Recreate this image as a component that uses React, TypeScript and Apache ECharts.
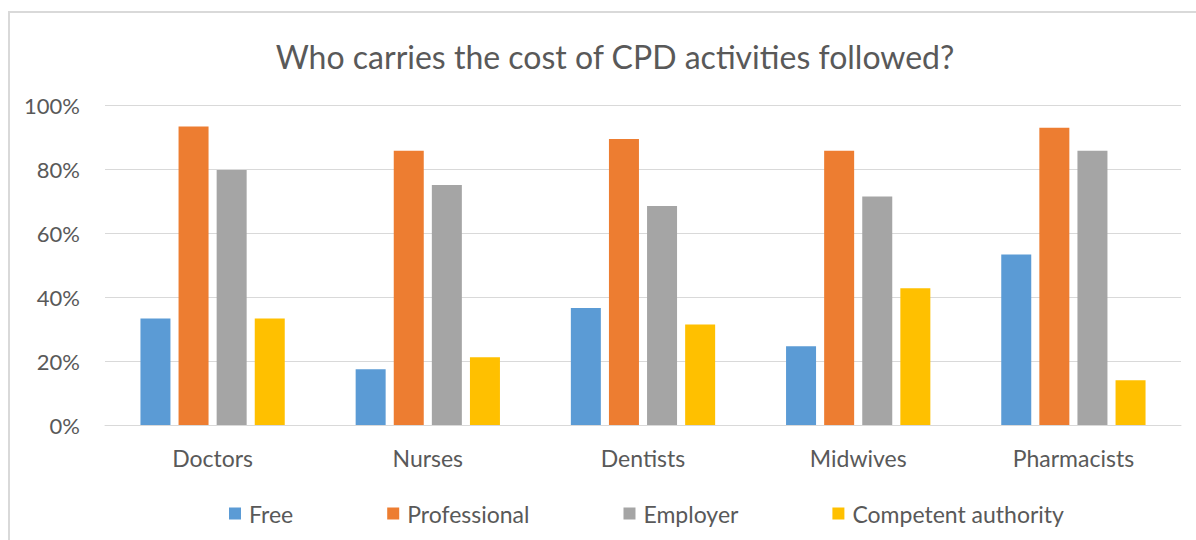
import React, { useEffect, useRef } from "react";
import * as echarts from "echarts";

const categories = ["Doctors", "Nurses", "Dentists", "Midwives", "Pharmacists"];
const seriesNames = ["Free", "Professional", "Employer", "Competent authority"];
const freeValues = [33.3, 17.4, 36.6, 24.6, 53.3];
const professionalValues = [93.3, 85.7, 89.4, 85.7, 92.9];
const employerValues = [79.7, 75.0, 68.4, 71.4, 85.7];
const competentValues = [33.3, 21.2, 31.4, 42.7, 14.0];
const colors = ["#5b9bd5", "#ed7d31", "#a5a5a5", "#ffc000"];
const titleText = "Who carries the cost of CPD activities followed?";

const FONT = "Lato, 'Noto Sans', sans-serif";
const TEXT = "#595959";

export default function App() {
  const ref = useRef<HTMLDivElement>(null);
  useEffect(() => {
    if (!ref.current) return;
    const chart = echarts.init(ref.current, undefined, { renderer: "svg" });
    const data = [freeValues, professionalValues, employerValues, competentValues];
    chart.setOption({
      animation: false,
      backgroundColor: "#ffffff",
      title: {
        text: titleText,
        left: 610,
        top: 35,
        textAlign: "center",
        textStyle: { fontFamily: FONT, fontSize: 32, fontWeight: "normal", color: TEXT },
      },
      graphic: [
        {
          type: "rect",
          shape: { x: 9, y: 12, width: 1300, height: 700 },
          style: { fill: "none", stroke: "#d9d9d9", lineWidth: 2 },
          silent: true,
        },
      ],
      legend: {
        data: seriesNames,
        left: 224,
        top: 497,
        itemWidth: 12,
        itemHeight: 12,
        itemGap: 94,
        icon: "rect",
        textStyle: { fontFamily: FONT, fontSize: 23, color: TEXT, padding: [0, 0, 0, 3] },
      },
      grid: { left: 105, right: 15, top: 105, bottom: 115, containLabel: false },
      xAxis: {
        type: "category",
        data: categories,
        axisTick: { show: false },
        axisLine: { lineStyle: { color: "#d9d9d9", width: 1 } },
        axisLabel: { fontFamily: FONT, fontSize: 23, color: TEXT, margin: 21 },
      },
      yAxis: {
        type: "value",
        min: 0,
        max: 100,
        interval: 20,
        axisLine: { show: false },
        axisTick: { show: false },
        splitLine: { lineStyle: { color: "#d9d9d9", width: 1 } },
        axisLabel: {
          fontFamily: FONT,
          fontSize: 22,
          color: TEXT,
          margin: 25,
          formatter: (v: number) => v + "%",
        },
      },
      series: seriesNames.map((name, i) => ({
        name,
        type: "bar",
        data: data[i],
        barWidth: 30,
        barGap: "27%",
        itemStyle: { color: colors[i] },
      })),
    });
    return () => chart.dispose();
  }, []);
  return (
    <div
      ref={ref}
      style={{ position: "fixed", left: 0, top: 0, width: 1196, height: 540 }}
    />
  );
}
